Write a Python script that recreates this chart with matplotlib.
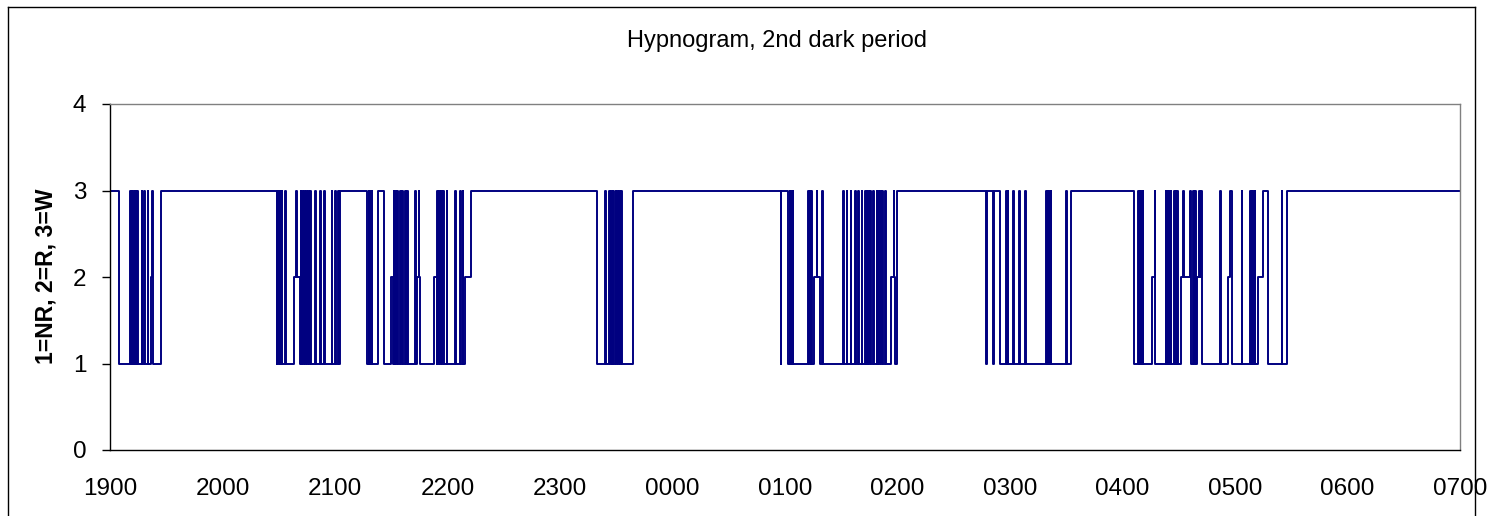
import numpy as np
import matplotlib
matplotlib.use("Agg")
import matplotlib.pyplot as plt
from matplotlib.lines import Line2D

plt.rcParams['font.family'] = ['Liberation Sans', 'DejaVu Sans']

# ---- data (minutes after 19:00) ----
title = "Hypnogram, 2nd dark period"
ylabel = "1=NR, 2=R, 3=W"
x_tick_labels = ["1900", "2000", "2100", "2200", "2300", "0000", "0100",
                 "0200", "0300", "0400", "0500", "0600", "0700"]
y_ticks = [0, 1, 2, 3, 4]

# base stage changes: time (min) and stage (1=NR, 2=R, 3=W)
change_t = [0, 5.0, 21.6, 22.9, 27.2,
            88.9, 98.1, 101.3, 122.7,
            137.2, 143.1, 146.3, 149.7, 151.1, 163.9, 165.3, 173.0, 174.2, 189.3, 192.4,
            259.6, 278.8,
            361.8, 375.6, 378.7, 416.4, 418.9, 419.6,
            474.7, 512.5,
            546.3, 555.9, 557.5, 571.1, 576.3, 579.6, 582.2, 596.4, 597.3, 598.2,
            612.4, 615.1, 617.8, 627.6,
            720]
change_v = [3, 1, 2, 1, 3,
            1, 2, 1, 3,
            1, 3, 1, 2, 1, 2, 1, 2, 1, 2, 3,
            1, 3,
            1, 2, 1, 2, 1, 3,
            1, 3,
            1, 2, 1, 2, 1, 2, 1, 2, 3, 1,
            2, 3, 1, 3,
            3]

# brief awakenings (single epoch of W inside sleep)
brief_wake_t = [10.7, 11.5, 12.3, 13.1, 13.9, 14.6, 16.9, 18.3, 20.1, 22.6,
                89.3, 90.1, 90.9, 91.6, 93.3, 99.2, 101.6, 102.4, 103.5, 104.5,
                105.6, 106.7, 109.3, 112.0, 114.1, 118.2, 120.0, 121.8,
                137.9, 138.7, 139.5, 151.3, 152.0, 153.1, 154.7, 155.7, 157.3,
                158.4, 162.7, 164.6, 174.5, 175.5, 176.5, 177.6, 179.6, 184.0,
                186.7, 188.0,
                264.0, 266.3, 267.2, 268.1, 269.3, 270.4, 271.5, 272.5,
                362.5, 363.4, 364.1, 372.4, 373.3, 374.0, 377.0, 379.7, 391.1,
                392.9, 395.0, 397.3, 399.1, 400.9, 402.7, 403.6, 404.4, 405.3,
                407.1, 408.9, 409.8, 410.7, 411.9, 413.3, 417.9,
                477.9, 478.7, 481.8, 485.0, 488.0, 499.2, 500.0, 500.8, 501.6, 509.9,
                548.3, 549.1, 549.9, 550.7, 557.2, 563.1, 564.0, 564.8, 565.6,
                567.6, 568.4, 569.3, 572.3, 576.0, 577.8, 578.7, 580.8, 582.0,
                592.0, 603.6, 608.0, 608.8, 609.6, 610.4, 624.9]

# brief sleep epochs (single epoch of NR inside wake)
brief_sleep_t = [357.7, 467.2, 471.1]

EPOCH = 0.3  # minutes

# ---- build step series ----
ct = np.array(change_t)
cv = np.array(change_v)

def stage_at(t):
    for s in brief_wake_t:
        if s <= t < s + EPOCH:
            return 3
    for s in brief_sleep_t:
        if s <= t < s + EPOCH:
            return 1
    i = np.searchsorted(ct, t, side='right') - 1
    return cv[max(i, 0)]

bps = sorted(set(change_t) | set(brief_wake_t) | set(s + EPOCH for s in brief_wake_t)
             | set(brief_sleep_t) | set(s + EPOCH for s in brief_sleep_t))
bps = [b for b in bps if b <= 720]
vals = [stage_at(b) for b in bps]

# ---- figure ----
W, H = 1491, 516
fig = plt.figure(figsize=(W / 100, H / 100), dpi=100)
ax = fig.add_axes([110 / W, 66 / H, 1350 / W, 346 / H])

ax.step(bps, vals, where='post', color='#000080', lw=1.4)

ax.set_xlim(0, 720)
ax.set_ylim(0, 4)
ax.set_xticks(np.arange(0, 721, 60))
ax.set_xticklabels(x_tick_labels)
ax.set_yticks(y_ticks)
ax.tick_params(axis='x', length=0, pad=20, labelsize=17.5)
ax.tick_params(axis='y', length=6, width=1, pad=11, labelsize=17.5, direction='out')

for side in ['left', 'bottom']:
    ax.spines[side].set_color('black')
    ax.spines[side].set_linewidth(1.0)
for side in ['top', 'right']:
    ax.spines[side].set_color('#808080')
    ax.spines[side].set_linewidth(1.0)

fig.text(777 / W, 1 - 41 / H, title, ha='center', va='center', fontsize=17)
fig.text(46 / W, 1 - 276 / H, ylabel, ha='center', va='center', rotation=90,
         fontsize=16.5, fontweight='bold')

# outer chart frame
fx = lambda px: px / W
fy = lambda py: 1 - py / H
for xs, ys in [([8, 8], [7, 520]), ([8, 1475], [7, 7]), ([1475, 1475], [7, 520])]:
    fig.add_artist(Line2D([fx(x) for x in xs], [fy(y) for y in ys],
                          color='black', lw=1.0, transform=fig.transFigure))

fig.savefig("out.png", dpi=100)
